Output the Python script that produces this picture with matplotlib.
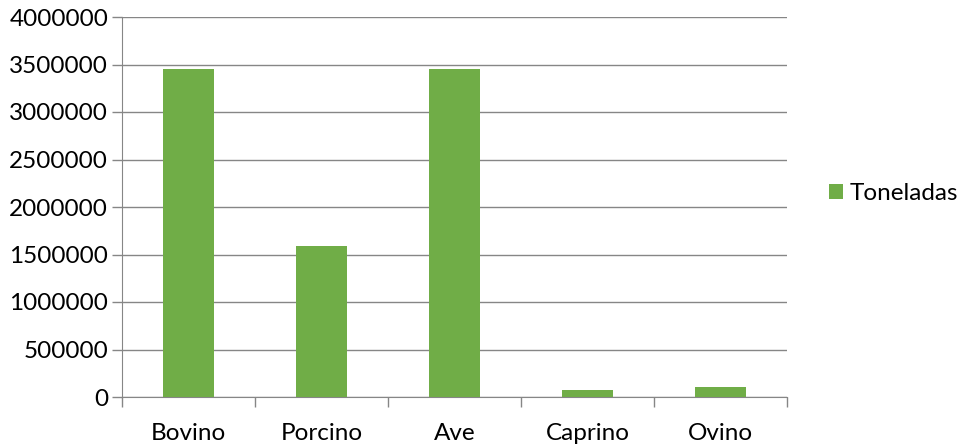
import matplotlib.pyplot as plt
import numpy as np

categories = ["Bovino", "Porcino", "Ave", "Caprino", "Ovino"]
toneladas = [3455000, 1590000, 3450000, 75000, 105000]
yticks = [0, 500000, 1000000, 1500000, 2000000, 2500000, 3000000, 3500000, 4000000]

plt.rcParams['font.family'] = ['Lato', 'DejaVu Sans']
grid_c = '#868686'
bar_c = '#70ad47'
fs = 17.5

fig = plt.figure(figsize=(9.6, 4.45), dpi=100)
ax = fig.add_axes([122 / 960, 48 / 445, 665 / 960, 380 / 445])

x = np.arange(len(categories))
ax.bar(x, toneladas, width=0.39, color=bar_c, label="Toneladas", zorder=3)

ax.set_xlim(-0.5, len(categories) - 0.5)
ax.set_ylim(0, 4000000)
ax.set_yticks(yticks)
ax.set_yticklabels([str(v) for v in yticks], fontsize=fs)
ax.yaxis.grid(True, color=grid_c, lw=1)
ax.set_axisbelow(True)

# category labels centered, ticks on boundaries
ax.set_xticks(x)
ax.set_xticklabels(categories, fontsize=fs)
ax.tick_params(axis='x', length=0, pad=19)
ax.set_xticks(np.arange(-0.5, len(categories)), minor=True)
ax.tick_params(axis='x', which='minor', length=7, color=grid_c, width=1)
ax.tick_params(axis='y', length=7, color=grid_c, width=1, pad=3)

for s in ['top', 'right']:
    ax.spines[s].set_visible(False)
ax.spines['left'].set_color(grid_c)
ax.spines['bottom'].set_color(grid_c)

ax.legend(loc='center left', bbox_to_anchor=(1.038, 0.535), frameon=False,
          fontsize=fs, handlelength=0.55, handleheight=0.55, handletextpad=0.3,
          borderaxespad=0.3)

fig.savefig("out.png", dpi=100)
